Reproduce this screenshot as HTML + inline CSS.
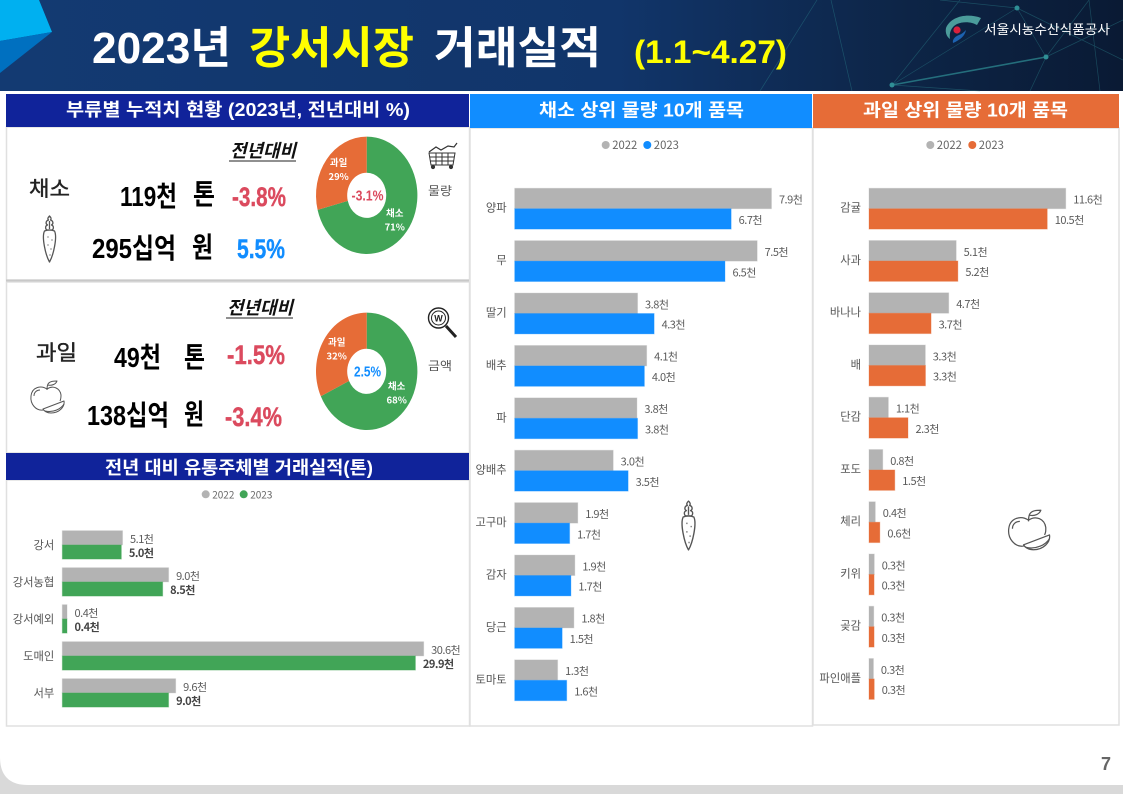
<!DOCTYPE html>
<html lang="ko">
<head>
<meta charset="utf-8">
<title>2023년 강서시장 거래실적</title>
<style>
html,body{margin:0;padding:0;background:#fff;width:1123px;height:794px;overflow:hidden}
svg{display:block}
text{font-family:"Liberation Sans","Noto Sans CJK KR",sans-serif}
.cjk{font-family:"Noto Sans CJK KR","Liberation Sans",sans-serif}
.hd{font-weight:700;fill:#fff;font-size:18px}
.ttl{font-weight:700;font-size:44px}
.cap{font-weight:700;font-style:italic;font-size:18px;fill:#111}
.big{font-size:28px;font-weight:700;fill:#000}
.pct{font-size:27px;font-weight:700;stroke-width:.4}
.side{font-size:12px;fill:#555}
.kind{font-size:21px;fill:#222;stroke:#222;stroke-width:.4}
.card{fill:#fff;stroke:#e0e0e0;stroke-width:1.5}
</style>
</head>
<body>
<svg id="slide" xmlns="http://www.w3.org/2000/svg" width="1123" height="794" viewBox="0 0 1123 794">
<defs>
<linearGradient id="headGrad" x1="0" y1="0" x2="1" y2="0">
<stop offset="0" stop-color="#133a72"/><stop offset=".55" stop-color="#11356a"/><stop offset=".8" stop-color="#0d2547"/><stop offset="1" stop-color="#0a1a34"/>
</linearGradient>
<symbol id="carrot" viewBox="0 0 16 48">
<g fill="none" stroke="#555" stroke-width="1.3" stroke-linejoin="round">
<path d="M8 1C6 3 6 4 7 5C4 6 4 9 6 10C3 11 4 15 6 15L10 15C12 15 13 11 10 10C12 9 12 6 9 5C10 4 10 3 8 1Z"/>
<path d="M3 16Q8 14 13 16C16 22 12 40 8 47C4 40 0 22 3 16Z"/>
<path d="M8 6V14M6 22h1M10 25h1M6 30h1M9 34h1M8 40h1"/>
</g>
</symbol>
<symbol id="apple" viewBox="0 0 36 34">
<g fill="none" stroke="#555" stroke-width="1" stroke-linejoin="round">
<path d="M18 9C12 5 3 7 2 16C1 24 7 31 14 30C16 30 17 29 18 29"/>
<path d="M18 9C24 5 31 8 32 15C32 18 32 19 31 21"/>
<path d="M5 16C5 12 8 10 11 10"/>
<path d="M18 10C18 8 18 6 19 4M19 4C21 1 25 1 28 1C27 4 23 6 19 5"/>
<path d="M14 29L35 21C36 27 30 33 22 33C18 33 15 31 14 29Z" fill="#fff"/>
<path d="M16 31C24 33 32 29 35 24"/>
</g>
</symbol>
</defs>

<!-- page -->
<rect x="0" y="0" width="1123" height="794" fill="#d9d9d9"/>
<path d="M0 0H1123V785H28Q0 785 0 757Z" fill="#fff"/>

<!-- header -->
<g>
<rect x="0" y="0" width="1123" height="91" fill="url(#headGrad)"/>
<g stroke="#2f8f96" stroke-width=".7" opacity=".4" fill="none">
<path d="M892 85L960 0M892 85L1017 8M1046 57L1017 8M1046 57L1123 20M1046 57L1089 0M831 0L852 91M817 0L760 91M1017 8L1123 60M1046 57L1030 91M1089 0L1100 91M892 85L980 91M1017 8L940 0"/>
</g>
<path d="M892 85L1046 57" stroke="#2f8f96" stroke-width="1.6" opacity=".7"/>
<circle cx="892" cy="85" r="2.5" fill="#2f8f96"/><circle cx="1046" cy="57" r="2.5" fill="#2f8f96"/><circle cx="1017" cy="8" r="2.5" fill="#2f8f96"/>
<polygon points="0,0 39,0 52,32 0,41" fill="#00b0f0"/>
<polygon points="0,41 52,32 0,73" fill="#0070c0"/>
</g>
<g>
<text class="ttl" x="92" y="63" textLength="139" lengthAdjust="spacingAndGlyphs" fill="#fff">2023년</text>
<text class="ttl" x="249" y="63" textLength="165" lengthAdjust="spacingAndGlyphs" fill="#ffff00">강서시장</text>
<text class="ttl" x="434" y="63" textLength="167" lengthAdjust="spacingAndGlyphs" fill="#fff">거래실적</text>
<text x="634" y="63" font-size="32" font-weight="700" textLength="153" lengthAdjust="spacingAndGlyphs" fill="#ffff00">(1.1~4.27)</text>
</g>
<g>
<path d="M981 18C968 13 951 16 946 28C945 33 947 37 950 39C949 33 951 27 957 24C964 21 972 22 977 25Z" fill="#4b9c9b"/>
<circle cx="957" cy="30" r="3.6" fill="#d8203c"/>
<path d="M966 30C965 36 960 40 953 43C952 39 956 36 959 35C962 34 964 32 966 30Z" fill="#1d62b0"/>
<text class="cjk" x="984" y="34" font-size="13" fill="#fff" textLength="126" lengthAdjust="spacingAndGlyphs">서울시농수산식품공사</text>
</g>

<!-- cards -->
<rect class="card" x="6.5" y="127" width="463" height="153"/>
<rect class="card" x="6.5" y="282" width="463" height="171"/>
<rect class="card" x="6.5" y="480" width="463" height="246"/>
<rect class="card" x="470" y="128" width="342.5" height="598"/>
<rect class="card" x="813" y="128" width="306" height="597"/>
<line x1="6" y1="280.5" x2="469" y2="280.5" stroke="#c8c8c8" stroke-width="2"/>

<!-- panel headers -->
<g>
<rect x="6" y="94" width="463" height="33" fill="#10239a"/>
<text class="hd" x="66" y="116" textLength="344" lengthAdjust="spacingAndGlyphs">부류별 누적치 현황 (2023년, 전년대비 %)</text>
</g>
<g>
<rect x="470" y="94" width="342" height="34" fill="#118dff"/>
<text class="hd" x="539" y="116.5" textLength="205" lengthAdjust="spacingAndGlyphs">채소 상위 물량 10개 품목</text>
</g>
<g>
<rect x="813" y="94" width="306" height="34" fill="#e66c37"/>
<text class="hd" x="863" y="116.5" textLength="205" lengthAdjust="spacingAndGlyphs">과일 상위 물량 10개 품목</text>
</g>
<g>
<rect x="6" y="453" width="463" height="27" fill="#10239a"/>
<text class="hd" x="105" y="474" textLength="268" lengthAdjust="spacingAndGlyphs">전년 대비 유통주체별 거래실적(톤)</text>
</g>

<!-- summary: vegetables -->
<g>
<text class="kind cjk" x="29" y="196" textLength="41" lengthAdjust="spacingAndGlyphs">채소</text>
<use href="#carrot" x="41.5" y="215" width="16" height="48"/>
<text class="cap cjk" x="230" y="157" textLength="66" lengthAdjust="spacingAndGlyphs">전년대비</text>
<line x1="229" y1="161" x2="296" y2="161" stroke="#222" stroke-width="1"/>
<text class="big" x="120" y="206" textLength="57" lengthAdjust="spacingAndGlyphs">119천</text>
<text class="big" x="193" y="204" textLength="22" lengthAdjust="spacingAndGlyphs">톤</text>
<text class="big" x="92" y="258" textLength="84" lengthAdjust="spacingAndGlyphs">295십억</text>
<text class="big" x="192" y="257" textLength="21" lengthAdjust="spacingAndGlyphs">원</text>
<text class="pct" x="232" y="206" fill="#db4a5e" stroke="#db4a5e" textLength="54" lengthAdjust="spacingAndGlyphs">-3.8%</text>
<text class="pct" x="237" y="258" fill="#118dff" stroke="#118dff" textLength="48" lengthAdjust="spacingAndGlyphs">5.5%</text>
</g>

<!-- summary: fruit -->
<g>
<text class="kind cjk" x="36" y="360" textLength="41" lengthAdjust="spacingAndGlyphs">과일</text>
<use href="#apple" x="29" y="380" width="36" height="34"/>
<text class="cap cjk" x="227" y="314" textLength="66" lengthAdjust="spacingAndGlyphs">전년대비</text>
<line x1="226" y1="318" x2="293" y2="318" stroke="#222" stroke-width="1"/>
<text class="big" x="114" y="367" textLength="47" lengthAdjust="spacingAndGlyphs">49천</text>
<text class="big" x="184" y="367" textLength="21" lengthAdjust="spacingAndGlyphs">톤</text>
<text class="big" x="87" y="425" textLength="82" lengthAdjust="spacingAndGlyphs">138십억</text>
<text class="big" x="184" y="424" textLength="20" lengthAdjust="spacingAndGlyphs">원</text>
<text class="pct" x="227" y="364" fill="#db4a5e" stroke="#db4a5e" textLength="58" lengthAdjust="spacingAndGlyphs">-1.5%</text>
<text class="pct" x="225" y="426" fill="#db4a5e" stroke="#db4a5e" textLength="57" lengthAdjust="spacingAndGlyphs">-3.4%</text>
</g>

<!-- side icons -->
<g fill="none" stroke="#333" stroke-width="1">
<path d="M429 153H455L453 165H431ZM429.5 157H454.5M430.5 161H454M436 153V165M442 153V165M448 153V165"/>
<path d="M429 152L436 147L441 150L448 146L454 147L457 143" stroke-width="1.2"/>
<circle cx="433" cy="167" r="1.6" fill="#333"/><circle cx="451" cy="167" r="1.6" fill="#333"/>
</g>
<text class="side cjk" x="428" y="195" textLength="24" lengthAdjust="spacingAndGlyphs">물량</text>
<g fill="none" stroke="#222">
<circle cx="438.5" cy="318" r="10" stroke-width="1.4"/>
<circle cx="438.5" cy="318" r="7" stroke-width="1"/>
<path d="M446 326L456 337" stroke-width="3"/>
<text x="434.2" y="321.5" font-size="9" font-weight="700" fill="#222" stroke="none">W</text>
</g>
<text class="side cjk" x="428" y="370" textLength="24" lengthAdjust="spacingAndGlyphs">금액</text>

<!-- decorative chart icons -->
<use href="#carrot" x="680" y="500" width="17" height="51"/>
<use href="#apple" x="1006" y="509" width="45" height="42"/>

<g id="donut-layer"></g>
<g id="chart-layer"></g>

<text x="1101" y="770" font-size="18" font-weight="700" fill="#666">7</text>
</svg>

<script>
// ----- chart data -----
const seriesYears = ['2022', '2023'];

const channelCategories = ['강서', '강서농협', '강서예외', '도매인', '서부'];
const channel2022 = [5.1, 9.0, 0.4, 30.6, 9.6];
const channel2023 = [5.0, 8.5, 0.4, 29.9, 9.0];

const vegCategories = ['양파', '무', '딸기', '배추', '파', '양배추', '고구마', '감자', '당근', '토마토'];
const veg2022 = [7.9, 7.46, 3.78, 4.06, 3.76, 3.03, 1.94, 1.85, 1.82, 1.32];
const veg2023 = [6.66, 6.47, 4.29, 3.99, 3.78, 3.49, 1.69, 1.73, 1.46, 1.6];

const fruitCategories = ['감귤', '사과', '바나나', '배', '단감', '포도', '체리', '키위', '곶감', '파인애플'];
const fruit2022 = [11.6, 5.14, 4.7, 3.32, 1.14, 0.81, 0.37, 0.31, 0.28, 0.26];
const fruit2023 = [10.51, 5.24, 3.66, 3.33, 2.3, 1.52, 0.64, 0.3, 0.3, 0.31];

const donutSegments = ['채소', '과일'];
const volumeShares = [71, 29];
const valueShares = [68, 32];
const volumeCenterLabel = '-3.1%';
const valueCenterLabel = '2.5%';

// ----- rendering -----
const NS = 'http://www.w3.org/2000/svg';
const GRAY = '#b3b3b3';
const GREEN = '#41a557';
const BLUE = '#118dff';
const ORANGE = '#e66c37';
const chartLayer = document.getElementById('chart-layer');
const donutLayer = document.getElementById('donut-layer');

function mk(tag, parent) {
  const el = document.createElementNS(NS, tag);
  parent.appendChild(el);
  return el;
}

function put(el, props) {
  Object.keys(props).forEach(function (k) { el.setAttribute(k, props[k]); });
}

function drawLegend(parent, o) {
  const g = mk('g', parent);
  
  
  seriesYears.forEach(function (year, i) {
    const dot = mk('circle', g);
    
    
    put(dot, { cx: o.x + i * o.step, cy: o.y, r: 4, fill: i === 0 ? GRAY : o.color });
    const t = mk('text', g);
    
    
    t.setAttribute('class', 'cjk');
    put(t, { x: o.x + 6.5 + i * o.step, y: o.y + 4, 'font-size': o.font, fill: '#666' });
    t.textContent = year;
  });
}

function drawBarChart(o) {
  const g = mk('g', chartLayer);
  
  
  const xScale = function (v) { return o.x0 + v * o.perUnit; };
  const yBand = function (i) { return o.y0 + i * o.step; };
  const fmt = function (v) { return v.toFixed(1) + '천'; };

  drawLegend(g, o.legend);

  o.categories.forEach(function (cat, i) {
    const lab = mk('text', g);
    
    
    lab.setAttribute('class', 'cjk');
    put(lab, { x: o.x0 - 8, y: yBand(i) + o.barH + o.catDy, 'text-anchor': 'end', 'font-size': 11.3, fill: '#555' });
    lab.textContent = cat;

    [o.prev, o.curr].forEach(function (series, s) {
      const v = series[i];
      const top = yBand(i) + s * o.barH;
      const color = s === 0 ? GRAY : o.color;
      const bar = mk('rect', g);
      
      
      put(bar, { x: o.x0, y: top, width: xScale(v) - o.x0, height: o.barH, fill: color, stroke: color, 'stroke-opacity': .3, 'stroke-width': 1 });
      const val = mk('text', g);
      
      
      val.setAttribute('class', 'cjk');
      put(val, { x: xScale(v) + 7.5, y: top + o.barH / 2 + 5, 'font-size': 11, 'letter-spacing': -.5, fill: (o.boldCurrent && s === 1) ? '#444' : '#5c5c5c', 'font-weight': (o.boldCurrent && s === 1) ? 700 : 400 });
      val.textContent = fmt(v);
    });
  });
}

function drawDonut(o) {
  const g = mk('g', donutLayer);
  
  
  const colors = [GREEN, ORANGE];
  const total = o.shares.reduce(function (a, b) { return a + b; }, 0);
  const pt = function (deg, f) {
    const r = deg * Math.PI / 180;
    return [o.cx + Math.sin(r) * o.rx * f, o.cy - Math.cos(r) * o.ry * f];
  };
  let angle = 0;
  o.shares.forEach(function (share, i) {
    const sweep = share / total * 360;
    const a = pt(angle, 1);
    const b = pt(angle + sweep, 1);
    const c = pt(angle + sweep, o.hole);
    const d = pt(angle, o.hole);
    const large = sweep > 180 ? 1 : 0;
    const slice = mk('path', g);
    
    
    put(slice, {
      d: 'M' + a + 'A' + o.rx + ' ' + o.ry + ' 0 ' + large + ' 1 ' + b +
         'L' + c + 'A' + (o.rx * o.hole) + ' ' + (o.ry * o.hole) + ' 0 ' + large + ' 0 ' + d + 'Z',
      fill: colors[i]
    });
    const mid = pt(angle + sweep / 2, .7);
    const name = mk('text', g);
    
    
    name.setAttribute('class', 'cjk');
    put(name, { x: mid[0], y: mid[1] - 4, 'text-anchor': 'middle', 'font-size': 9.5, 'font-weight': 700, fill: '#fff' });
    name.textContent = donutSegments[i];
    const pct = mk('text', g);
    
    
    pct.setAttribute('class', 'cjk');
    put(pct, { x: mid[0], y: mid[1] + 10, 'text-anchor': 'middle', 'font-size': 9.5, 'font-weight': 700, fill: '#fff' });
    pct.textContent = share + '%';
    angle += sweep;
  });
  const center = mk('text', g);
  
  
  put(center, { x: o.cx + .8, y: o.cy + 5, 'text-anchor': 'middle', 'font-size': 15, 'font-weight': 700, fill: o.centerColor, textLength: o.centerWidth, lengthAdjust: 'spacingAndGlyphs' });
  center.textContent = o.center;
}

drawBarChart({
  name: 'channel-bar-chart', categories: channelCategories, prev: channel2022, curr: channel2023,
  x0: 62.3, perUnit: 11.81, y0: 530.7, step: 37, barH: 14.2, catDy: 4, color: GREEN, boldCurrent: true,
  legend: { x: 205.7, y: 494.3, step: 38, color: GREEN, font: 10 }
});
drawBarChart({
  name: 'vegetable-bar-chart', categories: vegCategories, prev: veg2022, curr: veg2023,
  x0: 514.7, perUnit: 32.5, y0: 188.3, step: 52.4, barH: 20.4, catDy: 3, color: BLUE, boldCurrent: false,
  legend: { x: 605.7, y: 145, step: 41.6, color: BLUE, font: 11.3 }
});
drawBarChart({
  name: 'fruit-bar-chart', categories: fruitCategories, prev: fruit2022, curr: fruit2023,
  x0: 869, perUnit: 16.96, y0: 188.3, step: 52.25, barH: 20.4, catDy: 3, color: ORANGE, boldCurrent: false,
  legend: { x: 930.3, y: 145, step: 42, color: ORANGE, font: 11.3 }
});
drawDonut({
  name: 'volume-donut', shares: volumeShares, center: volumeCenterLabel, centerColor: '#db4a5e', centerWidth: 32,
  cx: 366.7, cy: 195.3, rx: 50.7, ry: 58.7, hole: .385
});
drawDonut({
  name: 'value-donut', shares: valueShares, center: valueCenterLabel, centerColor: BLUE, centerWidth: 27,
  cx: 366.7, cy: 371.3, rx: 50.7, ry: 58.7, hole: .385
});
</script>
</body>
</html>
